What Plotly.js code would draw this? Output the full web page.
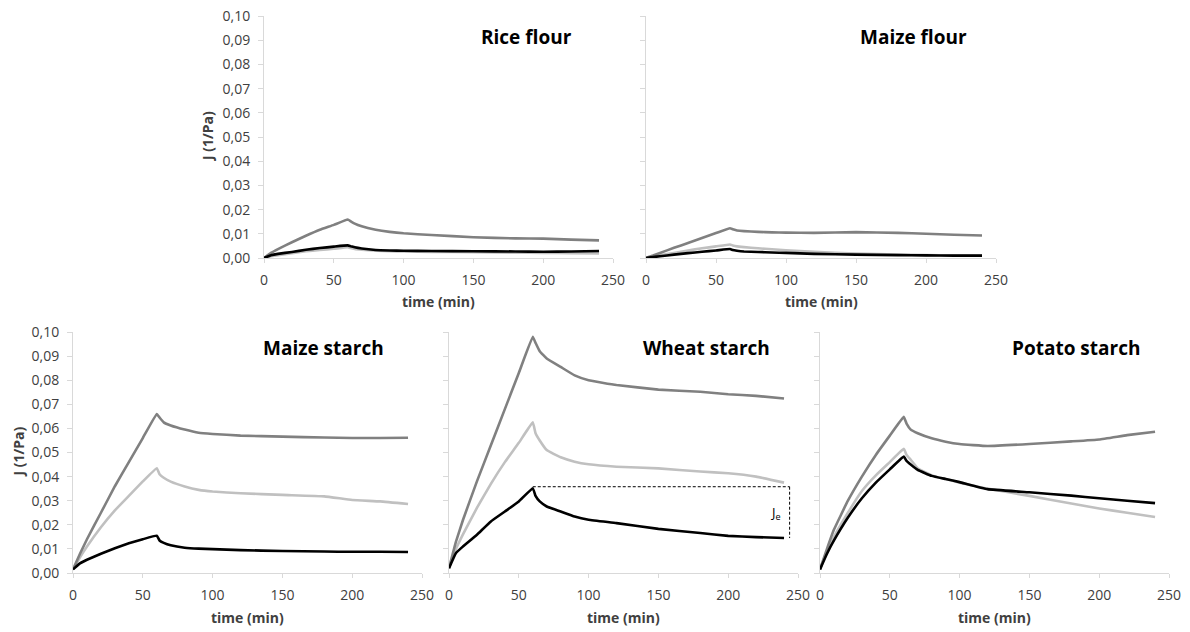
<!DOCTYPE html>
<html>
<head>
<meta charset="utf-8">
<script src="https://cdn.plot.ly/plotly-3.0.1.min.js"></script>
<style>
  html, body { margin: 0; padding: 0; background: #fff; }
  #chart { width: 1190px; height: 632px; }
</style>
</head>
<body>
<div id="chart"></div>
<script>
// ---- data ----
var time = [0, 5, 10, 20, 30, 40, 50, 60, 62, 65, 70, 80, 90, 100, 120, 150, 180, 200, 220, 240];

var panelNames = ["Rice flour", "Maize flour", "Maize starch", "Wheat starch", "Potato starch"];

var riceDark  = [0, 0.0021, 0.0037, 0.0065, 0.0092, 0.0117, 0.0137, 0.0159, 0.0152, 0.0142, 0.0131, 0.0117, 0.0108, 0.0102, 0.0095, 0.0086, 0.0081, 0.0080, 0.0076, 0.0073];
var riceLight = [0, 0.0007, 0.0012, 0.0020, 0.0028, 0.0033, 0.0038, 0.0045, 0.0041, 0.0037, 0.0034, 0.0030, 0.0028, 0.0027, 0.0025, 0.0024, 0.0022, 0.0021, 0.0020, 0.0019];
var riceBlack = [0, 0.0011, 0.0017, 0.0025, 0.0034, 0.0041, 0.0047, 0.0052, 0.0049, 0.0044, 0.0039, 0.0033, 0.0031, 0.0030, 0.0029, 0.0028, 0.0027, 0.0026, 0.0027, 0.0029];

var maizeFlourDark  = [0, 0.0010, 0.0021, 0.0042, 0.0062, 0.0083, 0.0103, 0.0123, 0.0119, 0.0114, 0.0111, 0.0108, 0.0106, 0.0105, 0.0104, 0.0107, 0.0104, 0.0100, 0.0096, 0.0093];
var maizeFlourLight = [0, 0.0006, 0.0011, 0.0021, 0.0031, 0.0040, 0.0048, 0.0056, 0.0052, 0.0048, 0.0045, 0.0040, 0.0036, 0.0032, 0.0026, 0.0018, 0.0014, 0.0012, 0.0011, 0.0010];
var maizeFlourBlack = [0, 0.0004, 0.0007, 0.0014, 0.0020, 0.0026, 0.0031, 0.0037, 0.0033, 0.0030, 0.0027, 0.0025, 0.0023, 0.0021, 0.0017, 0.0014, 0.0012, 0.0011, 0.0010, 0.0010];

var maizeStarchDark  = [0.0015, 0.008, 0.014, 0.025, 0.036, 0.046, 0.056, 0.066, 0.0645, 0.0625, 0.0612, 0.0595, 0.0582, 0.0577, 0.0570, 0.0566, 0.0562, 0.0560, 0.0560, 0.0561];
var maizeStarchLight = [0.0015, 0.0065, 0.011, 0.019, 0.026, 0.032, 0.038, 0.0435, 0.041, 0.0395, 0.0379, 0.0359, 0.0345, 0.0338, 0.0331, 0.0324, 0.0318, 0.0303, 0.0297, 0.0286];
var maizeStarchBlack = [0.0015, 0.004, 0.0055, 0.008, 0.0103, 0.0123, 0.014, 0.0155, 0.0135, 0.0125, 0.0115, 0.0105, 0.0101, 0.0099, 0.0095, 0.0091, 0.0089, 0.0088, 0.0088, 0.0087];

var wheatDark  = [0.002, 0.013, 0.022, 0.038, 0.053, 0.068, 0.083, 0.098, 0.0955, 0.092, 0.089, 0.0855, 0.082, 0.080, 0.078, 0.0761, 0.0752, 0.0742, 0.0735, 0.0724];
var wheatLight = [0.002, 0.010, 0.016, 0.027, 0.037, 0.046, 0.054, 0.0625, 0.058, 0.055, 0.051, 0.048, 0.0462, 0.0451, 0.0441, 0.0434, 0.0421, 0.0414, 0.0400, 0.0375];
var wheatBlack = [0.002, 0.0083, 0.011, 0.0159, 0.0214, 0.0255, 0.0297, 0.0352, 0.032, 0.0297, 0.0276, 0.0255, 0.0234, 0.0221, 0.0207, 0.0183, 0.0166, 0.0154, 0.0149, 0.0145];

var potatoDark  = [0.0015, 0.010, 0.018, 0.030, 0.040, 0.049, 0.057, 0.0648, 0.062, 0.0595, 0.058, 0.0559, 0.0545, 0.0535, 0.0527, 0.0535, 0.0546, 0.0554, 0.0572, 0.0586];
var potatoLight = [0.0015, 0.009, 0.015, 0.025, 0.034, 0.0405, 0.046, 0.0515, 0.049, 0.047, 0.0435, 0.0405, 0.039, 0.0375, 0.035, 0.032, 0.0288, 0.0268, 0.025, 0.0232];
var potatoBlack = [0.0015, 0.008, 0.0135, 0.023, 0.031, 0.0375, 0.043, 0.0483, 0.0465, 0.045, 0.0428, 0.0403, 0.039, 0.0377, 0.0348, 0.0335, 0.0321, 0.031, 0.030, 0.029];

var xTickVals = [0, 50, 100, 150, 200, 250];
var yTickVals = [0, 0.01, 0.02, 0.03, 0.04, 0.05, 0.06, 0.07, 0.08, 0.09, 0.10];
var xTitle = "time (min)";
var yTitle = "J (1/Pa)";
var jeLabel = "J<sub>e</sub>";

// ---- styles ----
var colDark = "#808080", colLight = "#c0c0c0", colBlack = "#000000";
var FONT = "'Open Sans', 'Noto Sans', sans-serif";

var panelSeries = [
  [riceDark, riceLight, riceBlack],
  [maizeFlourDark, maizeFlourLight, maizeFlourBlack],
  [maizeStarchDark, maizeStarchLight, maizeStarchBlack],
  [wheatDark, wheatLight, wheatBlack],
  [potatoDark, potatoLight, potatoBlack]
];

// domains (pixels -> paper fractions)
var W = 1190, H = 632;
var xDom = [[264, 613], [646, 996], [73, 422], [449, 798], [820, 1169]];
var yDom = [[16, 258], [16, 258], [332, 573], [332, 573], [332, 573]];
var showYLabels = [true, false, true, false, false];
var titlePos = [[0.753, 0.914], [0.764, 0.914], [0.717, 0.932], [0.738, 0.932], [0.733, 0.932]];

var traces = [];
var layout = {
  width: W, height: H,
  margin: {l: 0, r: 0, t: 0, b: 0},
  paper_bgcolor: "#fff", plot_bgcolor: "#fff",
  showlegend: false,
  separators: ",.",
  font: {family: FONT, color: "#404040", size: 14},
  annotations: [],
  shapes: []
};

var colors = [colDark, colLight, colBlack];
var order = [1, 0, 2];

for (var p = 0; p < 5; p++) {
  var xa = p === 0 ? "x" : "x" + (p + 1);
  var ya = p === 0 ? "y" : "y" + (p + 1);
  var xKey = p === 0 ? "xaxis" : "xaxis" + (p + 1);
  var yKey = p === 0 ? "yaxis" : "yaxis" + (p + 1);
  order.forEach(function (s) {
    traces.push({
      type: "scatter", mode: "lines",
      x: time, y: panelSeries[p][s],
      xaxis: xa, yaxis: ya,
      line: {color: colors[s], width: 2.6, shape: "spline", smoothing: 0.3},
      hoverinfo: "skip"
    });
  });
  layout[xKey] = {
    domain: [xDom[p][0] / W, xDom[p][1] / W],
    anchor: ya,
    range: [0, 250],
    tickvals: xTickVals,
    ticks: "outside", ticklen: 4, tickcolor: "#d9d9d9", tickwidth: 1,
    ticklabelstandoff: 5,
    showline: true, linecolor: "#d9d9d9", linewidth: 1,
    showgrid: false, zeroline: false,
    tickfont: {family: FONT, size: 14, color: "#404040"},
    fixedrange: true
  };
  layout[yKey] = {
    domain: [1 - yDom[p][1] / H, 1 - yDom[p][0] / H],
    anchor: xa,
    range: [0, 0.1],
    tickvals: yTickVals,
    tickformat: ".2f",
    showticklabels: showYLabels[p],
    ticks: "outside", ticklen: 5, tickcolor: "#d9d9d9", tickwidth: 1,
    ticklabelstandoff: 5,
    showline: true, linecolor: "#d9d9d9", linewidth: 1,
    showgrid: false, zeroline: false,
    tickfont: {family: FONT, size: 14, color: "#404040"},
    fixedrange: true
  };
  layout.annotations.push({
    xref: xa + " domain", yref: ya + " domain",
    x: 0.5, y: 0, yshift: -44,
    text: "<b>" + xTitle + "</b>", showarrow: false,
    font: {family: FONT, size: 14, color: "#404040"},
    xanchor: "center", yanchor: "middle"
  });
  layout.annotations.push({
    xref: xa + " domain", yref: ya + " domain",
    x: titlePos[p][0], y: titlePos[p][1],
    text: "<b>" + panelNames[p] + "</b>", showarrow: false,
    font: {family: FONT, size: 19, color: "#000"},
    xanchor: "center", yanchor: "middle"
  });
  if (showYLabels[p]) {
    layout.annotations.push({
      xref: xa + " domain", yref: ya + " domain",
      x: 0, xshift: -(xDom[p][0] - (p === 0 ? 207 : 18)),
      y: 0.5,
      text: "<b>" + yTitle + "</b>", showarrow: false, textangle: -90,
      font: {family: FONT, size: 14, color: "#404040"},
      xanchor: "center", yanchor: "middle"
    });
  }
}

// J_e marker on the wheat starch panel (x4/y4), derived from the black curve
var peakIdx = wheatBlack.indexOf(Math.max.apply(null, wheatBlack));
var peakVal = wheatBlack[peakIdx];
var endVal = wheatBlack[wheatBlack.length - 1];
var xRight = time[time.length - 1] + 4;
layout.shapes.push({
  type: "line", xref: "x4", yref: "y4",
  x0: time[peakIdx], x1: xRight, y0: peakVal + 0.0006, y1: peakVal + 0.0006,
  line: {color: "#000", width: 1, dash: "3px,2px"}
});
layout.shapes.push({
  type: "line", xref: "x4", yref: "y4",
  x0: xRight, x1: xRight, y0: peakVal + 0.0006, y1: endVal,
  line: {color: "#000", width: 1, dash: "3px,2px"}
});
layout.annotations.push({
  xref: "x4", yref: "y4", x: xRight - 10, y: (peakVal + endVal) / 2,
  text: jeLabel, showarrow: false,
  font: {family: FONT, size: 13, color: "#000"},
  xanchor: "center", yanchor: "middle"
});

Plotly.newPlot("chart", traces, layout, {displayModeBar: false, staticPlot: true});
</script>
</body>
</html>
